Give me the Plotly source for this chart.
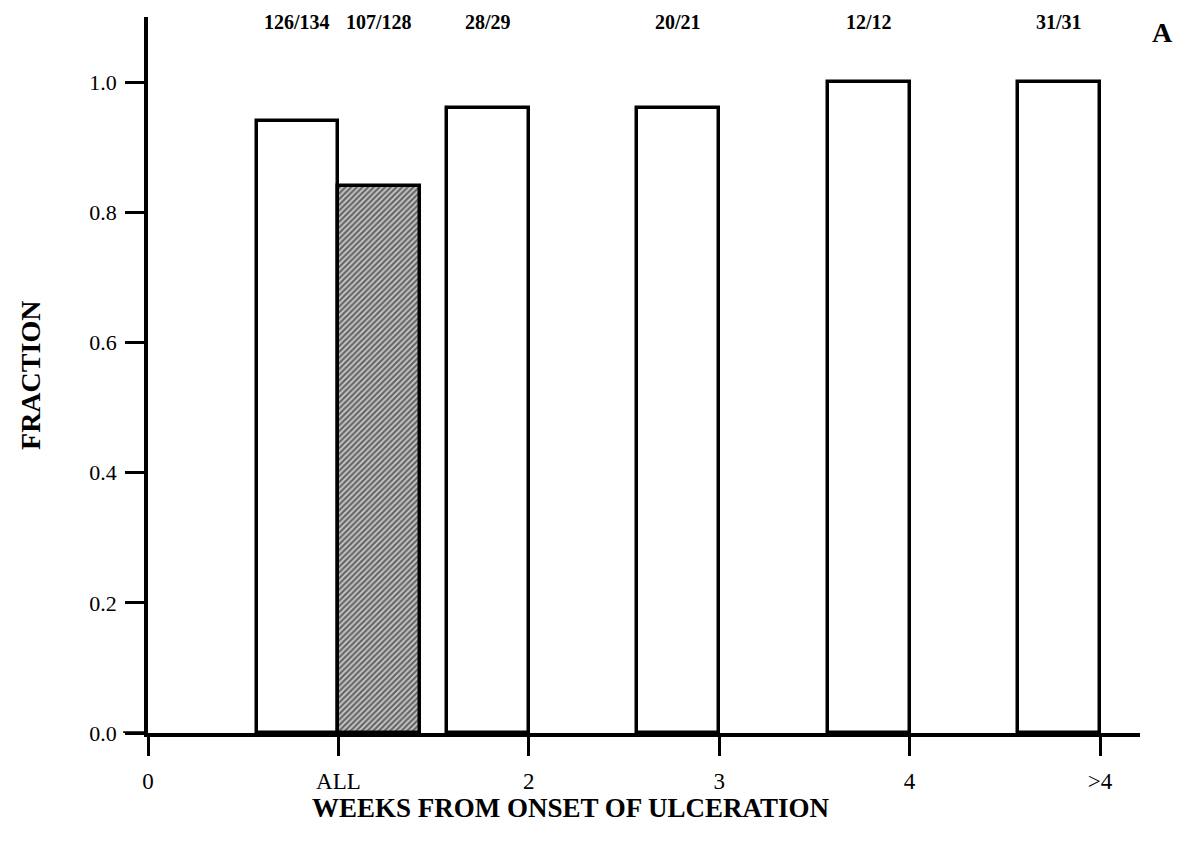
import plotly.graph_objects as go

# weeks-from-onset groups, tick positions on the x axis
tick_pos = [0, 1, 2, 3, 4, 5]
tick_text = ["0", "ALL", "2", "3", "4", ">4"]

# open bars (sit left of their tick)
open_x = [1, 2, 3, 4, 5]
open_frac = [0.94, 0.96, 0.96, 1.0, 1.0]
open_counts = ["126/134", "28/29", "20/21", "12/12", "31/31"]

# hatched bar (sits right of the ALL tick)
hatch_x = [1]
hatch_frac = [0.84]
hatch_counts = ["107/128"]

BAR_W = 0.43
SERIF = "Liberation Serif, Times New Roman, serif"

fig = go.Figure()
fig.add_trace(go.Bar(
    x=open_x, y=open_frac, width=BAR_W, offset=-BAR_W,
    marker=dict(color="white", line=dict(color="black", width=3.5)),
    showlegend=False, hoverinfo="skip",
))
fig.add_trace(go.Bar(
    x=hatch_x, y=hatch_frac, width=BAR_W, offset=0,
    marker=dict(color="#d0d0d0", line=dict(color="black", width=3.5),
                pattern=dict(shape="/", fgcolor="#000000", bgcolor="#d0d0d0",
                             size=4, solidity=0.6)),
    showlegend=False, hoverinfo="skip",
))

# counts written above the bars
for xs, labels, shift in [(open_x, open_counts, -BAR_W / 2),
                          (hatch_x, hatch_counts, BAR_W / 2)]:
    for x, lab in zip(xs, labels):
        fig.add_annotation(x=x + shift, y=1.092, text=f"<b>{lab}</b>",
                           showarrow=False, font=dict(size=20, family=SERIF, color="black"))

fig.add_annotation(x=1.023, y=0.979, xref="paper", yref="paper", text="<b>A</b>",
                   xanchor="center", yanchor="middle",
                   showarrow=False, font=dict(size=28, family=SERIF, color="black"))

# axis titles
fig.add_annotation(x=0.4264, y=-0.105, xref="paper", yref="paper",
                   text="<b>WEEKS FROM ONSET OF ULCERATION</b>",
                   xanchor="center", yanchor="middle", showarrow=False,
                   font=dict(size=27, family=SERIF, color="black"))
fig.add_annotation(x=-0.119, y=0.5, xref="paper", yref="paper",
                   text="<b>FRACTION</b>", textangle=-90,
                   xanchor="center", yanchor="middle", showarrow=False,
                   font=dict(size=28, family=SERIF, color="black"))

# x axis line runs a little to the left of the y axis
fig.add_shape(type="line", xref="paper", yref="y", x0=-0.025, x1=0, y0=0, y1=0,
              line=dict(color="black", width=3.5))

fig.update_layout(
    width=1192, height=856,
    margin=dict(l=140, r=60, t=9, b=131),
    plot_bgcolor="white", paper_bgcolor="white",
    barmode="overlay", bargap=0,
    font=dict(family=SERIF, color="black"),
    xaxis=dict(
        range=[0, 5.21], tickvals=tick_pos, ticktext=tick_text,
        showline=True, linecolor="black", linewidth=3.5,
        ticks="outside", ticklen=19, tickwidth=3, tickcolor="black",
        ticklabelstandoff=6,
        tickfont=dict(size=23, family=SERIF), showgrid=False, zeroline=False,
    ),
    yaxis=dict(
        range=[0, 1.1], tickvals=[0, 0.2, 0.4, 0.6, 0.8, 1.0], tickformat=".1f",
        showline=True, linecolor="black", linewidth=3.5,
        ticks="outside", ticklen=19, tickwidth=3, tickcolor="black",
        ticklabelstandoff=4,
        tickfont=dict(size=22, family=SERIF), showgrid=False, zeroline=False,
    ),
)

fig.write_html("out.html")
